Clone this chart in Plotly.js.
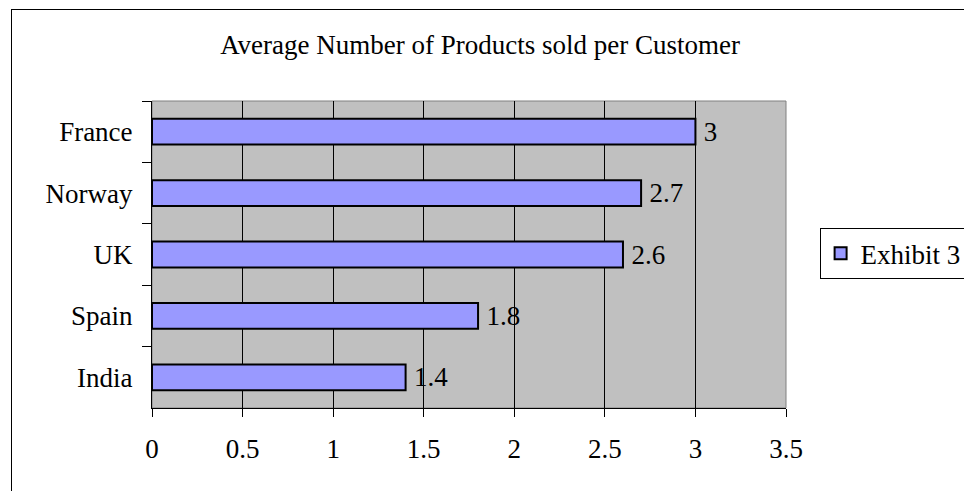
<!DOCTYPE html>
<html>
<head>
<meta charset="utf-8">
<script src="https://cdn.plot.ly/plotly-3.0.1.min.js"></script>
<style>
html,body{margin:0;padding:0;background:#fff;}
#wrap{position:relative;width:964px;height:491px;overflow:hidden;}
#chart{position:absolute;left:0;top:0;width:964px;height:491px;}
#frame{position:absolute;left:11px;top:9px;width:980px;height:500px;border:1px solid #000;pointer-events:none;box-sizing:border-box;}
</style>
</head>
<body>
<div id="wrap">
<div id="chart"></div>
<div id="frame"></div>
</div>
<script>
const categories = ["France", "Norway", "UK", "Spain", "India"];
const values = [3, 2.7, 2.6, 1.8, 1.4];
const valueLabels = ["3", "2.7", "2.6", "1.8", "1.4"];
const seriesName = "Exhibit 3";
const xTicks = [0, 0.5, 1, 1.5, 2, 2.5, 3, 3.5];
const xTickLabels = ["0", "0.5", "1", "1.5", "2", "2.5", "3", "3.5"];
const chartTitle = "Average Number of Products sold per Customer";

const FONT = "Liberation Serif, Times New Roman, serif";
const FS = 27;

const trace = {
  type: "bar",
  orientation: "h",
  name: seriesName,
  y: categories,
  x: values,
  text: valueLabels,
  texttemplate: "\u2009%{text}",
  textposition: "outside",
  constraintext: "none",
  cliponaxis: false,
  textfont: {family: FONT, size: FS, color: "#000"},
  marker: {color: "#9999FF", line: {color: "#000", width: 2}},
  showlegend: true,
  hoverinfo: "none"
};

const layout = {
  width: 964,
  height: 491,
  margin: {l: 152, r: 178, t: 101, b: 83, pad: 0, autoexpand: false},
  paper_bgcolor: "#fff",
  plot_bgcolor: "#C0C0C0",
  bargap: 0.58,
  font: {family: FONT, size: FS, color: "#000"},
  title: {
    text: chartTitle,
    font: {family: FONT, size: FS, color: "#000"},
    x: 0.498, xref: "container", xanchor: "center",
    y: 0.91, yref: "container", yanchor: "middle"
  },
  xaxis: {
    range: [0, 3.5],
    tickvals: xTicks,
    ticktext: xTickLabels,
    showgrid: true,
    gridcolor: "#000",
    gridwidth: 1,
    zeroline: false,
    showline: true,
    linecolor: "#000",
    linewidth: 1,
    ticks: "outside",
    ticklen: 8,
    tickcolor: "#000",
    ticklabelstandoff: 9,
    tickfont: {family: FONT, size: FS, color: "#000"},
    fixedrange: true
  },
  yaxis: {
    type: "category",
    autorange: "reversed",
    showgrid: false,
    zeroline: false,
    showline: true,
    linecolor: "#000",
    linewidth: 1,
    ticks: "outside",
    tickson: "boundaries",
    ticklen: 9,
    tickcolor: "#000",
    ticklabelstandoff: 13,
    tickfont: {family: FONT, size: FS, color: "#000"},
    fixedrange: true
  },
  legend: {
    x: 1.053, xanchor: "left",
    y: 0.503, yanchor: "middle",
    bgcolor: "#fff",
    bordercolor: "#000",
    borderwidth: 1,
    font: {family: FONT, size: FS, color: "#000"},
    itemwidth: 30
  },
  shapes: [
    {type: "rect", xref: "paper", yref: "paper", x0: 0, x1: 1, y0: 0, y1: 1,
     line: {color: "#808080", width: 1}, fillcolor: "rgba(0,0,0,0)", layer: "below"}
  ]
};

Plotly.newPlot("chart", [trace], layout, {staticPlot: true, displayModeBar: false});
</script>
</body>
</html>
